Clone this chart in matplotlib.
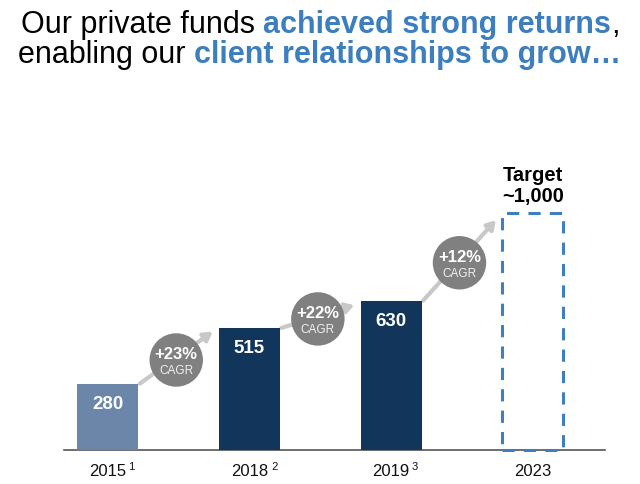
import matplotlib
matplotlib.use("Agg")
import matplotlib.pyplot as plt

plt.rcParams['font.family'] = ['Liberation Sans', 'DejaVu Sans']

# ---- data ----
years = ["2015", "2018", "2019", "2023"]
superscripts = ["1", " 2", "3", ""]
values = [280, 515, 630, 1000]
value_labels = ["280", "515", "630", ""]
cagr_labels = ["+23%", "+22%", "+12%"]
target_label = "Target\n~1,000"

bar_colors = ["#6b86a8", "#12355b", "#12355b"]
target_edge = "#3d7fbf"
title_blue = "#3d7ebf"

fig = plt.figure(figsize=(6.4, 4.85), dpi=100)
W, H = 640, 485
# axes: baseline at y=451px, value 1000 at y=214px
ax = fig.add_axes([64 / W, (H - 451) / H, (605 - 64) / W, (451 - 214) / H])
ax.set_xlim(-0.31, 3.51)
ax.set_ylim(0, 1000)
for s in ["top", "right", "left"]:
    ax.spines[s].set_visible(False)
ax.spines["bottom"].set_color("#555555")
ax.spines["bottom"].set_linewidth(1.2)
ax.set_yticks([])

bw = 0.43
xs = list(range(len(years)))

# solid bars
ax.bar(xs[:3], values[:3], width=bw, color=bar_colors, zorder=3)
# dashed target bar
ax.bar(xs[3], values[3], width=bw, facecolor="none", edgecolor=target_edge,
       linewidth=2.2, linestyle=(0, (4, 3)), zorder=3, clip_on=False)

# values inside bars
for x, v, lab in zip(xs, values, value_labels):
    if lab:
        ax.annotate(lab, xy=(x, v), xytext=(0, -14), textcoords="offset points",
                    ha="center", va="center", color="white", fontsize=13.5,
                    fontweight="bold", zorder=5)

# target label
ax.annotate(target_label, xy=(xs[3], values[3]), xytext=(0, 6),
            textcoords="offset points", ha="center", va="bottom",
            fontsize=14.5, fontweight="bold", color="black",
            linespacing=1.1, annotation_clip=False)

# arrows + CAGR circles
for i, lab in enumerate(cagr_labels):
    x0, y0 = xs[i] + bw / 2 + 0.01, values[i]
    x1, y1 = xs[i + 1] - bw / 2 - 0.045, values[i + 1] * 0.97
    ax.annotate("", xy=(x1, y1), xytext=(x0, y0),
                arrowprops=dict(arrowstyle="-|>,head_length=0.5,head_width=0.3",
                                color="#c8c8c8", lw=3, shrinkA=0, shrinkB=0),
                zorder=2, annotation_clip=False)
    cx, cy = (x0 + x1) / 2, (y0 + y1) / 2 - 10
    ax.scatter([cx], [cy], s=1480, color="#808080", zorder=4, edgecolors="none",
               clip_on=False)
    ax.annotate(lab, xy=(cx, cy), xytext=(0, 4.5), textcoords="offset points",
                ha="center", va="center", color="white", fontsize=12,
                fontweight="bold", zorder=5)
    ax.annotate("CAGR", xy=(cx, cy), xytext=(0, -7.5), textcoords="offset points",
                ha="center", va="center", color="#f0f0f0", fontsize=8.5,
                zorder=5)

# x tick labels
ax.set_xticks(xs)
ax.set_xticklabels(years, fontsize=12, color="#111111")
ax.tick_params(axis="x", length=0, pad=9.5)

fig.canvas.draw()
renderer = fig.canvas.get_renderer()
for x, lab, sup in zip(xs, ax.get_xticklabels(), superscripts):
    if not sup:
        continue
    bb = lab.get_window_extent(renderer)
    half = bb.width / 2 / (fig.dpi / 72)
    ax.annotate(sup, xy=(x, 0), xycoords=("data", "data"),
                xytext=(half + 1, -11.5), textcoords="offset points",
                ha="left", va="center", fontsize=8, color="#111111",
                annotation_clip=False)

# title with mixed styles, centered lines
title_lines = [
    [("Our private funds ", "normal", "black"),
     ("achieved strong returns", "bold", title_blue),
     (",", "normal", "black")],
    [("enabling our ", "normal", "black"),
     ("client relationships to grow\u2026", "bold", title_blue)],
]
baselines = [H - 33, H - 63]
fs = 22
for line, by in zip(title_lines, baselines):
    texts = []
    for s, w, c in line:
        t = fig.text(0, by / H, s, fontsize=fs, fontweight=w, color=c,
                     ha="left", va="baseline")
        texts.append(t)
    fig.canvas.draw()
    widths = [t.get_window_extent(renderer).width for t in texts]
    total = sum(widths)
    xcur = (W - total) / 2
    for t, w in zip(texts, widths):
        t.set_x(xcur / W)
        xcur += w

fig.savefig("out.png", dpi=100)
